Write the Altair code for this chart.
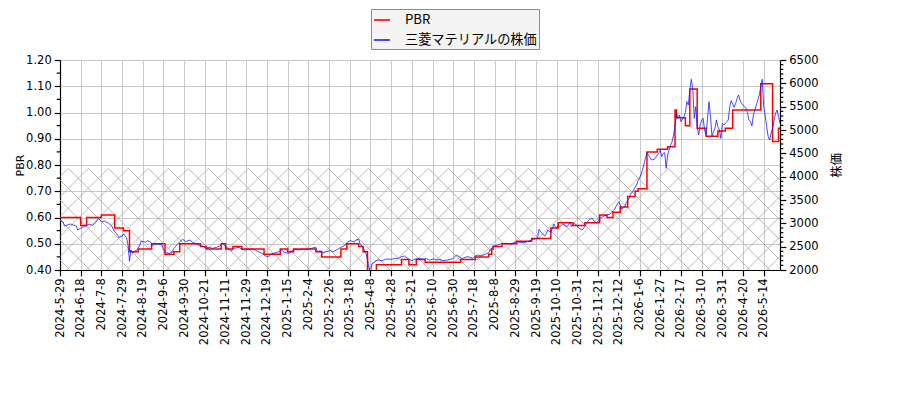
import altair as alt
import numpy as np
import pandas as pd

# -----------------------------------------------------------------------------
# DATA (x is the trading-day index)
# -----------------------------------------------------------------------------

TICK_LABELS = [
    "2024-5-29", "2024-6-18", "2024-7-8", "2024-7-29", "2024-8-19", "2024-9-6",
    "2024-9-30", "2024-10-21", "2024-11-11", "2024-11-29", "2024-12-19",
    "2025-1-15", "2025-2-4", "2025-2-26", "2025-3-18", "2025-4-8", "2025-4-28",
    "2025-5-21", "2025-6-10", "2025-6-30", "2025-7-18", "2025-8-8", "2025-8-29",
    "2025-9-19", "2025-10-10", "2025-10-31", "2025-11-21", "2025-12-12",
    "2026-1-6", "2026-1-27", "2026-2-17", "2026-3-10", "2026-3-31", "2026-4-20",
    "2026-5-14",
]
TICK_STEP = 14
N_DAYS = 488

PBR_NAME = "PBR"
PRICE_NAME = "三菱マテリアルの株価"

# PBR is a step series: index where a new value starts, and the value
PBR_IDX = [0, 14, 18, 28, 37, 43, 47, 53, 62, 71, 77, 81, 95, 99, 109, 112, 117,
           123, 138, 149, 154, 158, 173, 177, 190, 194, 202, 205, 208, 214, 231,
           236, 241, 247, 271, 281, 290, 292, 293, 299, 309, 319, 332, 337, 347,
           355, 365, 370, 374, 379, 384, 389, 391, 397, 404, 411, 416, 417, 423,
           426, 431, 437, 445, 450, 455, 474, 482, 486, 487]
PBR_VAL = [0.60, 0.57, 0.60, 0.61, 0.56, 0.55, 0.47, 0.48, 0.50, 0.46, 0.47, 0.50,
           0.49, 0.48, 0.50, 0.48, 0.49, 0.48, 0.46, 0.48, 0.47, 0.48, 0.47, 0.45,
           0.48, 0.50, 0.49, 0.47, 0.39, 0.42, 0.44, 0.42, 0.44, 0.43, 0.44, 0.45,
           0.46, 0.48, 0.49, 0.50, 0.51, 0.52, 0.56, 0.58, 0.57, 0.58, 0.61, 0.60,
           0.62, 0.64, 0.68, 0.70, 0.71, 0.85, 0.86, 0.87, 1.01, 0.98, 0.95, 1.09,
           0.94, 0.91, 0.93, 0.94, 1.01, 1.11, 0.89, 0.94, 0.94]

PRICE_IDX = [0, 2, 3, 5, 7, 9, 11, 12, 14, 16, 18, 20, 22, 24, 26, 28, 30, 33, 35,
             37, 39, 40, 42, 43, 45, 46, 47, 48, 49, 50, 52, 54, 55, 58, 59, 61,
             63, 64, 67, 69, 70, 72, 74, 76, 77, 79, 81, 83, 85, 88, 90, 92, 94,
             97, 99, 101, 103, 106, 108, 110, 112, 114, 116, 118, 121, 123, 125,
             127, 130, 132, 134, 136, 139, 141, 143, 146, 148, 150, 152, 155, 157,
             159, 161, 164, 166, 168, 170, 173, 174, 176, 178, 180, 183, 185, 187,
             190, 192, 194, 196, 199, 200, 202, 203, 205, 207, 208, 209, 210, 211,
             213, 215, 218, 220, 222, 224, 227, 229, 231, 233, 236, 238, 240, 243,
             246, 248, 250, 253, 255, 257, 259, 262, 264, 266, 268, 270, 272, 274,
             276, 279, 281, 283, 285, 288, 290, 291, 293, 296, 298, 300, 302, 305,
             307, 309, 311, 314, 316, 318, 320, 323, 324, 326, 327, 328, 329, 330,
             332, 333, 334, 335, 336, 337, 338, 340, 342, 343, 345, 346, 348, 350,
             351, 353, 355, 356, 358, 360, 361, 363, 365, 367, 368, 370, 372, 373,
             375, 376, 378, 379, 380, 382, 383, 385, 386, 387, 388, 390, 391, 392,
             393, 394, 395, 396, 397, 398, 399, 400, 402, 403, 404, 405, 406, 407,
             408, 409, 410, 411, 412, 413, 414, 415, 416, 417, 418, 419, 420, 421,
             422, 423, 424, 425, 426, 427, 428, 429, 430, 431, 432, 433, 434, 435,
             436, 437, 438, 439, 440, 441, 442, 443, 444, 445, 446, 447, 448, 449,
             451, 452, 453, 454, 456, 457, 458, 459, 460, 461, 462, 464, 465, 466,
             467, 468, 469, 470, 471, 473, 474, 475, 476, 477, 478, 479, 480, 481,
             482, 483, 484, 485, 486, 487]
PRICE_VAL = [3071, 3036, 2943, 2964, 2986, 2964, 2943, 2857, 2893, 2929, 2957, 2979,
             2957, 3014, 3107, 3036, 3050, 3000, 2943, 2821, 2750, 2693, 2729, 2771,
             2700, 2536, 2190, 2429, 2357, 2393, 2429, 2536, 2621, 2593, 2629, 2607,
             2521, 2550, 2557, 2536, 2429, 2371, 2357, 2393, 2464, 2536, 2607, 2657,
             2607, 2643, 2586, 2557, 2536, 2500, 2464, 2486, 2464, 2486, 2514, 2571,
             2514, 2443, 2414, 2464, 2486, 2443, 2429, 2443, 2443, 2429, 2393, 2371,
             2300, 2286, 2343, 2371, 2393, 2429, 2371, 2357, 2414, 2443, 2429, 2443,
             2443, 2443, 2464, 2486, 2393, 2414, 2371, 2393, 2414, 2393, 2429, 2486,
             2514, 2586, 2629, 2607, 2643, 2657, 2557, 2486, 2357, 2214, 2057, 1960,
             2129, 2179, 2214, 2200, 2229, 2236, 2229, 2250, 2250, 2286, 2300, 2229,
             2200, 2229, 2250, 2229, 2243, 2214, 2236, 2214, 2229, 2200, 2214, 2229,
             2243, 2321, 2286, 2243, 2271, 2286, 2250, 2300, 2321, 2300, 2343, 2371,
             2429, 2514, 2536, 2557, 2571, 2571, 2557, 2586, 2607, 2586, 2586, 2607,
             2629, 2657, 2679, 2871, 2786, 2750, 2729, 2786, 2857, 2800, 2893, 2986,
             2929, 2893, 2964, 2929, 2986, 2943, 2929, 3014, 2929, 3000, 2943, 2893,
             2857, 2929, 3000, 3086, 3107, 3057, 3000, 3107, 3143, 3157, 3179, 3200,
             3229, 3286, 3357, 3464, 3393, 3300, 3357, 3443, 3536, 3643, 3657, 3714,
             3821, 3914, 3964, 4057, 4143, 4271, 4393, 4514, 4464, 4414, 4357, 4371,
             4414, 4464, 4500, 4571, 4429, 4500, 4514, 4179, 4464, 4571, 4679, 4750,
             4893, 5086, 5357, 5250, 5321, 5179, 5229, 5286, 5371, 5607, 5536, 5857,
             6086, 5893, 5250, 5500, 5071, 4893, 5107, 5214, 5250, 5000, 4893, 5250,
             5607, 5286, 4857, 4964, 5036, 5214, 5071, 5000, 4821, 5143, 5107, 5179,
             5214, 5500, 5629, 5486, 5571, 5679, 5750, 5629, 5571, 5536, 5464, 5371,
             5214, 5179, 5086, 5321, 5429, 5536, 5750, 5929, 6086, 5500, 5300, 5071,
             4857, 4786, 4929, 5036, 5214, 5357, 5429, 5286, 5143]

PBR_TICKS = [0.40, 0.50, 0.60, 0.70, 0.80, 0.90, 1.00, 1.10, 1.20]
PBR_MINOR = [0.45, 0.55, 0.65, 0.75, 0.85, 0.95, 1.05, 1.15]
PRICE_TICKS = [2000, 2500, 3000, 3500, 4000, 4500, 5000, 5500, 6000, 6500]
PRICE_MINOR = [v for v in range(2000, 6501, 100) if v % 500]

HATCH_TOP = 0.787  # upper edge of the hatched PBR band (bottom is the axis floor)

# -----------------------------------------------------------------------------
# STYLE
# -----------------------------------------------------------------------------

W, H = 720, 210
PBR_DOMAIN = [0.40, 1.20]
PRICE_DOMAIN = [2000, 6500]
RED = "#ff0000"
BLUE = "#1a1aff"
GRID = "#c8c8c8"
HATCH = "#a8a8a8"
LATIN = "DejaVu Sans"
CJK = "Noto Sans CJK JP"


def hatch_segments(spacing=20, phase_up=6.6, phase_down=10.0):
    """Cross-hatch (45 degree, in pixels) over the band PBR 0.40 .. HATCH_TOP."""
    top = (HATCH_TOP - PBR_DOMAIN[0]) / (PBR_DOMAIN[1] - PBR_DOMAIN[0]) * H
    segs = []
    for c in np.arange(-240 + phase_up, W + spacing, spacing):  # y = x - c
        xa, xb = max(0, c), min(W, c + top)
        if xb > xa:
            segs.append((xa, xa - c, xb, xb - c))
    for c in np.arange(phase_down - 20, W + 240, spacing):  # y = c - x
        xa, xb = max(0, c - top), min(W, c)
        if xb > xa:
            segs.append((xa, c - xa, xb, c - xb))
    seg = np.array(segs)
    to_idx = lambda px: px / W * (N_DAYS - 1)
    to_pbr = lambda py: PBR_DOMAIN[0] + py / H * (PBR_DOMAIN[1] - PBR_DOMAIN[0])
    return pd.DataFrame({
        "idx": to_idx(seg[:, 0]), "v": to_pbr(seg[:, 1]),
        "idx2": to_idx(seg[:, 2]), "v2": to_pbr(seg[:, 3]),
    })


pbr_df = pd.DataFrame({"idx": PBR_IDX, "v": PBR_VAL, "series": PBR_NAME})
price_df = pd.DataFrame({"idx": PRICE_IDX, "v": PRICE_VAL, "series": PRICE_NAME})

label_array = "[" + ",".join(f"'{t}'" for t in TICK_LABELS) + "]"
x_axis = alt.Axis(
    values=list(range(0, N_DAYS, TICK_STEP)),
    labelExpr=f"{label_array}[round(datum.value / {TICK_STEP})]",
    labelAngle=270, labelFont=LATIN, labelFontSize=11.5, labelColor="#000",
    labelPadding=2, labelOverlap=False, labelFlush=False,
    tickColor="#000", tickSize=5.8, tickWidth=1.2,
    domainColor="#000", domainWidth=1.2,
    grid=True, gridColor=GRID, gridWidth=1, title=None,
)
x_enc = alt.X("idx:Q", axis=x_axis,
              scale=alt.Scale(domain=[0, N_DAYS - 1], nice=False, zero=False))

pbr_scale = alt.Scale(domain=PBR_DOMAIN, nice=False, zero=False)
price_scale = alt.Scale(domain=PRICE_DOMAIN, nice=False, zero=False)

color = alt.Color(
    "series:N",
    scale=alt.Scale(domain=[PBR_NAME, PRICE_NAME], range=[RED, BLUE]),
    legend=alt.Legend(
        title=None, orient="none", legendX=311, legendY=-51, direction="vertical",
        symbolType="stroke", symbolSize=256, symbolStrokeWidth=1.6,
        labelFont=CJK, labelFontSize=13.2, labelColor="#000", labelOffset=14,
        padding=2, rowPadding=4, fillColor="#f4f4f4", strokeColor="#8c8c8c",
        cornerRadius=0,
    ),
)

hatch = alt.Chart(hatch_segments()).mark_rule(color=HATCH, strokeWidth=0.8).encode(
    x=x_enc, x2="idx2:Q",
    y=alt.Y("v:Q", scale=pbr_scale, axis=None), y2="v2:Q",
)

pbr_minor = alt.Chart(pd.DataFrame({"v": PBR_MINOR})).mark_rule(
    color="#000", strokeWidth=1.2
).encode(
    x=alt.value(-3.3), x2=alt.value(0),
    y=alt.Y("v:Q", scale=pbr_scale, axis=None),
)

price_minor = alt.Chart(pd.DataFrame({"v": PRICE_MINOR})).mark_rule(
    color="#000", strokeWidth=1.2
).encode(
    x=alt.value(W), x2=alt.value(W + 3.3),
    y=alt.Y("v:Q", scale=price_scale, axis=None),
)

pbr_line = alt.Chart(pbr_df).mark_line(
    interpolate="step-after", strokeWidth=1.5, clip=True
).encode(
    x=x_enc,
    y=alt.Y("v:Q", scale=pbr_scale, axis=alt.Axis(
        orient="left", values=PBR_TICKS, format=".2f",
        labelFont=LATIN, labelFontSize=11.5, labelColor="#000", labelPadding=3,
        tickColor="#000", tickSize=5.8, tickWidth=1.2,
        domainColor="#000", domainWidth=1.2,
        grid=True, gridColor=GRID, gridWidth=1,
        title="PBR", titleFont=LATIN, titleFontSize=11, titleFontWeight="normal",
        titleColor="#000", titleAngle=270, titleX=-40, titleY=H / 2,
        titleAlign="center", titleBaseline="middle",
    )),
    color=color,
)

price_line = alt.Chart(price_df).mark_line(strokeWidth=0.8, clip=True).encode(
    x=x_enc,
    y=alt.Y("v:Q", scale=price_scale, axis=alt.Axis(
        orient="right", values=PRICE_TICKS, format="d",
        labelFont=LATIN, labelFontSize=11.5, labelColor="#000", labelPadding=3,
        tickColor="#000", tickSize=5.8, tickWidth=1.2,
        domainColor="#000", domainWidth=1.2, grid=False,
        title="株価", titleFont=CJK, titleFontSize=12.5, titleFontWeight="normal",
        titleColor="#000", titleAngle=270, titleX=56, titleY=H / 2,
        titleAlign="center", titleBaseline="middle",
    )),
    color=color,
)

chart = alt.layer(
    hatch, pbr_minor, price_minor, pbr_line, price_line
).resolve_scale(
    y="independent"
).properties(
    width=W, height=H,
    padding={"left": 52, "top": 52, "right": 72, "bottom": 122},
    autosize=alt.AutoSizeParams(type="none"),
    background="white",
).configure_view(stroke="transparent")

chart.save("out.html", embed_options={"renderer": "svg", "actions": False})
